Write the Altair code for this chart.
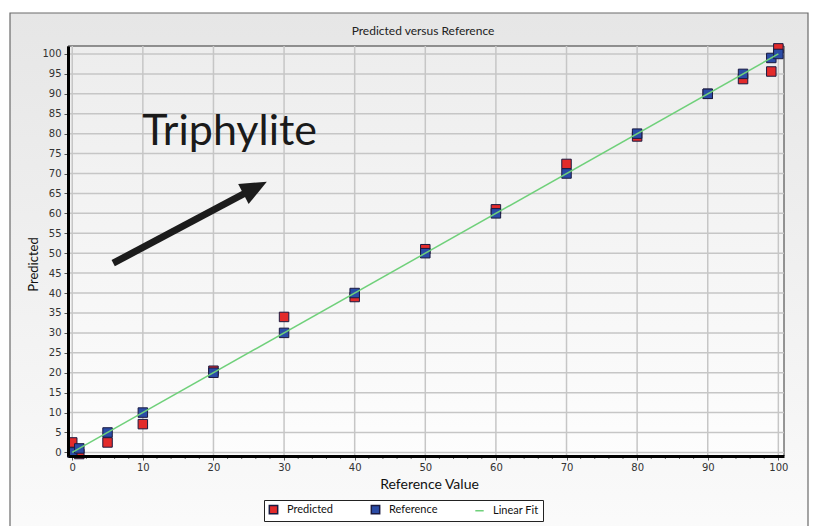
import altair as alt
import numpy as np
import pandas as pd

# Reference values and model predictions (Triphylite content, %)
reference = [0, 1, 5, 10, 20, 30, 40, 50, 60, 70, 80, 90, 95, 99, 100]
predicted = [2.5, -0.4, 2.5, 7.1, 20.5, 34.0, 39.0, 51.0, 61.0, 72.4, 79.3, 90.0, 93.7, 95.6, 101.4]
series = ["Predicted", "Reference", "Linear Fit"]

x_ticks = list(range(0, 101, 10))
y_ticks = list(range(0, 101, 5))
x_minor = [v for v in range(0, 101, 2) if v % 10]

# Linear fit of the reference line
slope, intercept = np.polyfit(reference, reference, 1)
fit_x = [min(reference), max(reference)]
fit_y = [slope * v + intercept for v in fit_x]

# Annotation: label and arrow (data units)
label_pos = (9.9, 77.2)
arrow_tail = (5.8, 47.5)
arrow_head = (25.9, 66.4)

W, H = 716, 410
RED, BLUE, GREEN, EDGE = "#e32b2b", "#2b4ca6", "#6fd07a", "#1a1a40"

xs = alt.Scale(domain=[-0.6, 100.8], nice=False, zero=False)
ys = alt.Scale(domain=[-0.9, 102], nice=False, zero=False)

axis_common = dict(
    grid=False, domainColor="black", domainWidth=3, tickColor="#555555", tickSize=4,
    labelFont="DejaVu Sans", labelFontSize=10, labelColor="#333333",
    labelFlush=False, labelOverlap=False, titleFont="Lato", titleFontWeight="normal",
    titleColor="#111111", zindex=1,
)
x_axis = alt.Axis(values=x_ticks, title="Reference Value", titleFontSize=14, labelPadding=2,
                  titleX=361, titleY=32, titleAlign="center", titleBaseline="alphabetic",
                  **axis_common)
y_axis = alt.Axis(values=y_ticks, title="Predicted", titleFontSize=13, labelPadding=3,
                  titleX=-35, titleY=218, titleAngle=270, titleAlign="center",
                  titleBaseline="middle", **axis_common)


def X(field="x"):
    return alt.X(f"{field}:Q", scale=xs, axis=x_axis)


def Y(field="y"):
    return alt.Y(f"{field}:Q", scale=ys, axis=y_axis)


one = pd.DataFrame({"k": [0]})

panel = alt.Chart(one).mark_rect(
    fill=alt.LinearGradient(
        gradient="linear", x1=0, x2=0, y1=0, y2=1,
        stops=[alt.GradientStop(color="#e6e6e6", offset=0),
               alt.GradientStop(color="#fbfbfb", offset=1)]),
    stroke="#6a6a6a", strokeWidth=1.2,
).encode(x=alt.value(-58), x2=alt.value(740), y=alt.value(-33), y2=alt.value(500))

plot_bg = alt.Chart(one).mark_rect(
    fill=alt.LinearGradient(
        gradient="linear", x1=0, x2=0, y1=0, y2=1,
        stops=[alt.GradientStop(color="#ededed", offset=0),
               alt.GradientStop(color="#fdfdfd", offset=1)]),
    stroke="#333333", strokeWidth=1,
).encode(x=alt.value(0), x2=alt.value(W), y=alt.value(0), y2=alt.value(H))

title = alt.Chart(pd.DataFrame({"t": ["Predicted versus Reference"]})).mark_text(
    font="Lato", fontSize=12, color="#222222", align="center", baseline="middle"
).encode(x=alt.value(W / 2 - 3), y=alt.value(-15), text="t:N")

hgrid = alt.Chart(pd.DataFrame({"y": y_ticks})).mark_rule(
    color="#c6c6c6", strokeWidth=1.5
).encode(y=Y(), x=alt.value(0), x2=alt.value(W))

vgrid = alt.Chart(pd.DataFrame({"x": x_ticks})).mark_rule(
    color="#c6c6c6", strokeWidth=1.5
).encode(x=X(), y=alt.value(0), y2=alt.value(H))

minor = alt.Chart(pd.DataFrame({"x": x_minor})).mark_rule(
    color="#666666", strokeWidth=1
).encode(x=X(), y=alt.value(H), y2=alt.value(H + 3))

pts = pd.DataFrame({
    "x": reference + reference,
    "y": predicted + reference,
    "series": ["Predicted"] * len(reference) + ["Reference"] * len(reference),
})

leg = alt.Legend(
    orient="none", legendX=196, legendY=454, direction="horizontal", title=None,
    fillColor="white", strokeColor="#222222", padding=4, symbolSize=70,
    symbolStrokeWidth=1.5, labelFont="Lato", labelFontSize=11, labelColor="#111111",
    columnPadding=34, labelOffset=8,
)

points = alt.Chart(pts).mark_point(filled=True, size=90, strokeWidth=1, opacity=1).encode(
    x=X(),
    y=Y(),
    fill=alt.Fill("series:N", scale=alt.Scale(domain=series, range=[RED, BLUE, GREEN]), legend=leg),
    stroke=alt.Stroke("series:N", scale=alt.Scale(domain=series, range=[EDGE, EDGE, GREEN]), legend=leg),
    shape=alt.Shape("series:N", scale=alt.Scale(domain=series, range=["square", "square", "stroke"]), legend=leg),
)

fit = alt.Chart(pd.DataFrame({"x": fit_x, "y": fit_y})).mark_line(
    color=GREEN, strokeWidth=1.5
).encode(x=X(), y=Y())

arrow = alt.Chart(pd.DataFrame({
    "x": [arrow_tail[0]], "y": [arrow_tail[1]], "x2": [arrow_head[0]], "y2": [arrow_head[1]]
})).mark_rule(color="#1c1c1c", strokeWidth=7).encode(
    x=X(), y=Y(), x2="x2:Q", y2="y2:Q")

head = alt.Chart(pd.DataFrame({"x": [arrow_head[0]], "y": [arrow_head[1]]})).mark_point(
    shape="M1,0L-1,-0.85L-1,0.85Z", size=700, filled=True, color="#1c1c1c",
    opacity=1, angle=332.3, strokeWidth=0,
).encode(x=X(), y=Y())

label = alt.Chart(pd.DataFrame({"x": [label_pos[0]], "y": [label_pos[1]], "t": ["Triphylite"]})).mark_text(
    font="Lato", fontSize=43, color="#1a1a1a", align="left", baseline="alphabetic"
).encode(x=X(), y=Y(), text="t:N")

chart = alt.layer(
    panel, plot_bg, title, hgrid, vgrid, minor, points, fit, arrow, head, label
).properties(
    width=W, height=H,
    autosize=alt.AutoSizeParams(type="none"),
    padding={"left": 68, "top": 46, "right": 29, "bottom": 70},
).configure(background="white").configure_view(stroke=None)

chart.save("out.html", embed_options={"renderer": "svg", "actions": False})
